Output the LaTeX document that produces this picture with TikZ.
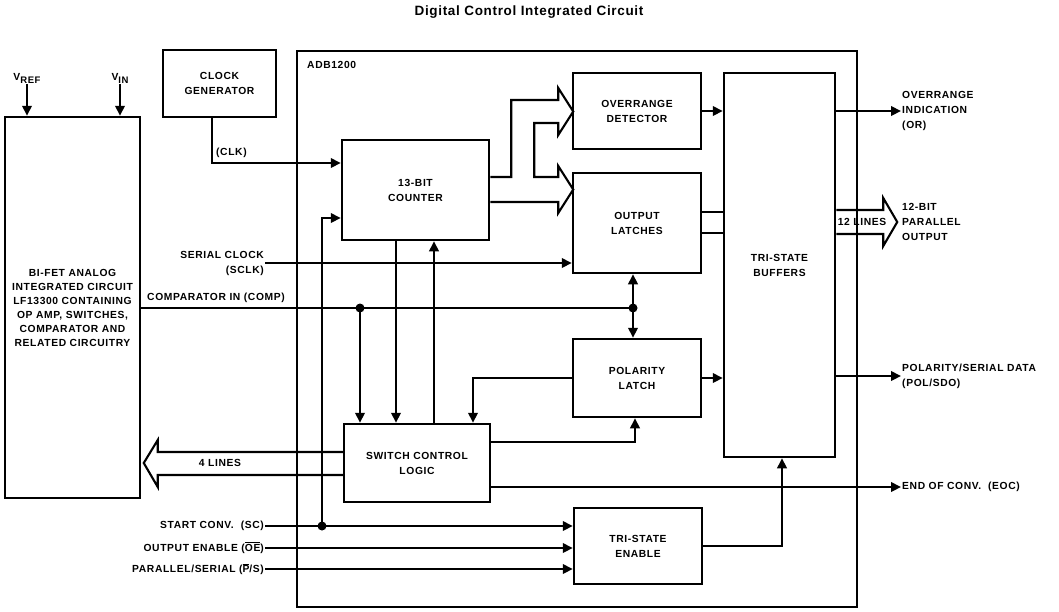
\documentclass[tikz,border=0pt]{standalone}
\usepackage{fontspec}
\newfontfamily\sigfont{Liberation Sans}[LetterSpace=6]
\newfontfamily\ttlfont{Liberation Sans}[LetterSpace=5]
\usetikzlibrary{arrows.meta}
\newcommand{\lblfont}{\sigfont\bfseries\fontsize{10.3}{15}\selectfont}
\newcommand{\ovl}[1]{\vbox{\hrule height 0.7pt\kern 1pt\hbox{#1}}}

\tikzset{
  blk/.style={draw, line width=2.5pt, align=center, font=\lblfont},
  lbl/.style={font=\lblfont, inner sep=1pt},
  wire/.style={line width=2.1pt, line join=miter},
  arr/.style={wire, -{Triangle[length=10pt,width=9.5pt]}},
}

\begin{document}
\begin{tikzpicture}[x=1pt,y=-1pt]
\useasboundingbox (0,0) rectangle (1059,611);
\node[font=\ttlfont\bfseries\fontsize{13.5}{15}\selectfont] (title) at (529,12) {Digital Control Integrated Circuit};

% chip outline
\node[blk, minimum width=560pt, minimum height=556pt] (adb) at (577,329) {};
\node[lbl, anchor=west] (adbl) at (306,65) {ADB1200};

% blocks
\node[blk, minimum width=135pt, minimum height=381pt, font=\lblfont\fontsize{10.3}{14}\selectfont] (ana) at (72.5,307.5)
  {BI-FET ANALOG\\INTEGRATED CIRCUIT\\LF13300 CONTAINING\\OP AMP, SWITCHES,\\COMPARATOR AND\\RELATED CIRCUITRY};
\node[blk, minimum width=113pt, minimum height=67pt] (clk) at (219.5,83.5) {CLOCK\\GENERATOR};
\node[blk, minimum width=147pt, minimum height=100pt] (cnt) at (415.5,190) {13-BIT\\COUNTER};
\node[blk, minimum width=128pt, minimum height=76pt] (ovr) at (637,111) {OVERRANGE\\DETECTOR};
\node[blk, minimum width=128pt, minimum height=100pt] (lat) at (637,223) {OUTPUT\\LATCHES};
\node[blk, minimum width=128pt, minimum height=78pt] (pol) at (637,378) {POLARITY\\LATCH};
\node[blk, minimum width=128pt, minimum height=76pt] (tse) at (638,546) {TRI-STATE\\ENABLE};
\node[blk, minimum width=146pt, minimum height=78pt] (swc) at (417,463) {SWITCH CONTROL\\LOGIC};
\node[blk, minimum width=111pt, minimum height=384pt] (tsb) at (779.5,265) {TRI-STATE\\BUFFERS};

% labels
\node[lbl] (vref) at (27,78) {V\raisebox{-3pt}{\fontsize{9.5}{10}\selectfont REF}};
\node[lbl] (vin) at (120,78) {V\raisebox{-3pt}{\fontsize{9.5}{10}\selectfont IN}};
\node[lbl, anchor=west] (clkl) at (215,153) {(CLK)};
\node[lbl, anchor=east, align=right] (sclk) at (265,263) {SERIAL CLOCK\\(SCLK)};
\node[lbl] (compl) at (216,298) {COMPARATOR IN (COMP)};
\node[lbl, anchor=west, align=left] (orl) at (901,111) {OVERRANGE\\INDICATION\\(OR)};
\node[lbl, anchor=west, align=left] (p12) at (901,222) {12-BIT\\PARALLEL\\OUTPUT};
\node[lbl, anchor=west, align=left] (pols) at (901,376) {POLARITY/SERIAL DATA\\(POL/SDO)};
\node[lbl, anchor=west] (eoc) at (901,487) {END OF CONV.\ \ (EOC)};

\coordinate (ja) at (360,308);
\coordinate (jb) at (633,308);
\coordinate (jsc) at (322,526);
\coordinate (xd) at (396,0);
\coordinate (xu) at (434,0);
\coordinate (xp) at (473,0);

% inputs from the left
\foreach \n/\y/\t in {sc/526/{START CONV.\ \ (SC)}, oe/548/{OUTPUT ENABLE (\ovl{OE})}, ps/569/{PARALLEL/SERIAL (\ovl{P}/S)}}{
  \node[lbl, anchor=east] (\n) at (265,\y) {\t};
  \draw[arr] (\n.east) -- (\n.east -| tse.west);
}
\draw[arr] (vref.south) -- (vref.south |- ana.north);
\draw[arr] (vin.south) -- (vin.south |- ana.north);
\draw[arr] ([xshift=-7.5pt]clk.south) |- ([yshift=27pt]cnt.west);
\draw[arr] (jsc) |- ([yshift=-28pt]cnt.west);
\draw[arr] (sclk.east) -- (sclk.east -| lat.west);
\draw[wire] (ana.east |- jb) -- (jb);
\draw[arr] (ja) -- (ja |- swc.north);
\draw[arr] (jb) -- (jb |- lat.south);
\draw[arr] (jb) -- (jb |- pol.north);
\foreach \j in {ja,jb,jsc}{\fill (\j) circle (4.5pt);}

% counter and switch control
\draw[arr] (cnt.south -| xd) -- (swc.north -| xd);
\draw[arr] (swc.north -| xu) -- (cnt.south -| xu);
\draw[arr] (pol.west) -| (swc.north -| xp);
\draw[arr] ([yshift=21pt]swc.east) -| ([xshift=-2pt]pol.south);
\draw[wire] ([yshift=13pt]cnt.east) -- ++(21,0) -- ++(0,-77) -- ++(47,0) -- ++(0,-12) -- ++(15,23.5) -- ++(-15,23.5)
  -- ++(0,-12) -- ++(-24,0) -- ++(0,54) -- ++(24,0) -- ++(0,-11) -- ++(15,23.5) -- ++(-15,23.5) -- ++(0,-11) -- ++(-68,0);
\draw[wire] (swc.west) ++(0,-11) -- ++(-185,0) -- ++(0,-12) -- ++(-14,23) -- ++(14,24) -- ++(0,-12) -- ++(185,0);
\node[lbl] (l4) at (220,463) {4 LINES};

% into the buffers
\draw[arr] (ovr.east) -- (ovr.east -| tsb.west);
\draw[wire] ([yshift=11pt]lat.east) -- ([yshift=11pt]lat.east -| tsb.west);
\draw[wire] ([yshift=-10pt]lat.east) -- ([yshift=-10pt]lat.east -| tsb.west);
\draw[arr] (pol.east) -- (pol.east -| tsb.west);
\draw[arr] (tse.east) -| ([xshift=2.5pt]tsb.south);

% outputs
\draw[arr] (tsb.east |- orl.west) -- (orl.west);
\draw[wire] (tsb.east |- p12.west) ++(0,-12) -- ++(47,0) -- ++(0,-12) -- ++(14,24) -- ++(-14,24) -- ++(0,-12) -- ++(-47,0);
\node[lbl] (l12) at (862,222) {12 LINES};
\draw[arr] (tsb.east |- pols.west) -- (pols.west);
\draw[arr] ([yshift=-24pt]swc.east) -- (eoc.west);
\end{tikzpicture}
\end{document}
